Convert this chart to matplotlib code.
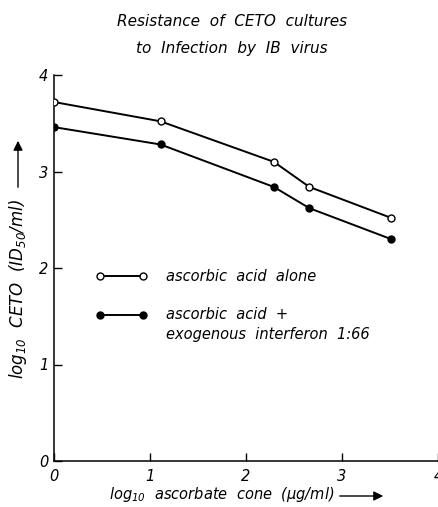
import matplotlib
matplotlib.use("Agg")
import matplotlib.pyplot as plt

# Data
x_vals = [0.0, 1.11, 2.29, 2.66, 3.51]
alone = [3.72, 3.52, 3.10, 2.84, 2.52]
with_ifn = [3.46, 3.28, 2.84, 2.62, 2.30]
x_ticks = [0, 1, 2, 3, 4]
y_ticks = [0, 1, 2, 3, 4]
title_lines = ["Resistance  of  CETO  cultures", "to  Infection  by  IB  virus"]
legend_labels = ["ascorbic  acid  alone", "ascorbic  acid  +\nexogenous  interferon  1:66"]

plt.rcParams['font.family'] = ["DejaVu Sans"]
plt.rcParams['font.style'] = 'italic'

fig = plt.figure(figsize=(4.38, 5.07), dpi=100)
ax = fig.add_axes([54/438, 1-461/507, (438-54)/438, (461-75)/507])

ax.plot(x_vals, alone, color='black', lw=1.4, marker='o', ms=5,
        mfc='white', mec='black', mew=1.0, label=legend_labels[0], zorder=3)
ax.plot(x_vals, with_ifn, color='black', lw=1.4, marker='o', ms=5,
        mfc='black', mec='black', label=legend_labels[1], zorder=3)

ax.set_xlim(0, 4)
ax.set_ylim(0, 4)
ax.set_xticks(x_ticks)
ax.set_yticks(y_ticks)
ax.set_xticklabels([str(t) for t in x_ticks], fontsize=10.5, style='italic')
ax.set_yticklabels([str(t) for t in y_ticks], fontsize=10.5, style='italic')
ax.tick_params(axis='both', direction='in', length=5.5, width=1.0)
ax.tick_params(axis='y', pad=4)
ax.tick_params(axis='x', pad=5.5)
for s in ['top', 'right']:
    ax.spines[s].set_visible(False)
for s in ['left', 'bottom']:
    ax.spines[s].set_linewidth(1.1)

leg = ax.legend(loc='upper left', bbox_to_anchor=(0.108, 0.497), frameon=False,
                fontsize=10.5, numpoints=2, handlelength=3.55, handletextpad=1.27,
                labelspacing=1.55, borderaxespad=0, borderpad=0)
for t in leg.get_texts():
    t.set_style('italic')
    t.set_linespacing(1.4)
# align the second handle with the first line of its two-line label
h2 = leg.legend_handles[1]
yd = h2.get_ydata()
h2.set_ydata([v + 7.2 for v in yd])

fig.text(232/438, 1-22/507, title_lines[0], ha='center', va='center',
         fontsize=11, style='italic')
fig.text(232/438, 1-48/507, title_lines[1], ha='center', va='center',
         fontsize=11, style='italic')

# axis labels
fig.text(222/438, 1-495/507, r"log$_{10}$  ascorbate  cone  ($\mu$g/ml)",
         ha='center', va='center', fontsize=10.5, style='italic')
fig.text(18/438, 1-289/507, r"log$_{10}$  CETO  (ID$_{50}$/ml)",
         ha='center', va='center', fontsize=12, style='italic', rotation=90)

# arrows
ax.annotate("", xy=(386/438, 1-496/507), xytext=(337/438, 1-496/507),
            xycoords='figure fraction', textcoords='figure fraction',
            arrowprops=dict(arrowstyle='-|>', color='black', lw=1.0,
                            mutation_scale=14))
ax.annotate("", xy=(18/438, 1-138/507), xytext=(18/438, 1-190/507),
            xycoords='figure fraction', textcoords='figure fraction',
            arrowprops=dict(arrowstyle='-|>', color='black', lw=1.0,
                            mutation_scale=14))

fig.savefig("out.png", dpi=100)
